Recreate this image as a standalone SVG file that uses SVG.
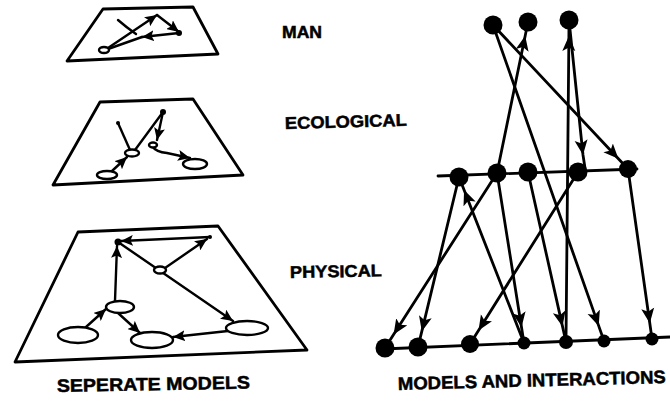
<svg xmlns="http://www.w3.org/2000/svg" width="670" height="403" viewBox="0 0 670 403">
<defs>
<marker id="ah" markerUnits="userSpaceOnUse" markerWidth="17" markerHeight="14" refX="15" refY="7" orient="auto" viewBox="0 0 17 14">
<path d="M0,0.5 L15,7 L0,13.5 L3.5,7 Z" fill="#000"/>
</marker>
<marker id="as" markerUnits="userSpaceOnUse" markerWidth="13" markerHeight="11" refX="12" refY="5.5" orient="auto" viewBox="0 0 13 11">
<path d="M0,0 L12,5.5 L0,11 L2.5,5.5 Z" fill="#000"/>
</marker>
</defs>
<style>
.pl{fill:none;stroke:#000;stroke-width:2.8;stroke-linejoin:round}
.ln{fill:none;stroke:#000;stroke-width:2.4;stroke-linecap:round}
.lr{fill:none;stroke:#000;stroke-width:2.8;stroke-linecap:round}
.ov{fill:#fff;stroke:#000;stroke-width:2.4}
.dot{fill:#000}
.lab{font-family:"Liberation Sans",Arial,sans-serif;font-weight:bold;fill:#000;stroke:#000;stroke-width:0.5}
.a{marker-end:url(#as)}
.m{marker-mid:url(#ah)}
</style>
<rect width="670" height="403" fill="#fff"/>

<!-- MAN plane -->
<g id="man-model">
<polygon class="pl" points="103,9 193,7 218,54 67,61"/>
<path class="ln a" d="M108,48 L157,15"/>
<path class="ln a" d="M157,15 L179,32"/>
<path class="ln a" d="M179,33 L142,37"/>
<path class="ln" d="M108,49 L142,37"/>
<path class="ln" d="M118,20 Q126,27 136,34"/>
<circle class="dot" cx="179" cy="33" r="3"/>
<ellipse class="ov" cx="104" cy="50" rx="5" ry="3"/>
</g>

<!-- ECOLOGICAL plane -->
<g id="ecological-model">
<polygon class="pl" points="100,102 193,99 243,175 53,185"/>
<path class="ln a" d="M112,171 L127,157"/>
<path class="ln" d="M118,123 L130,150"/>
<path class="ln" d="M135,150 L163,112"/>
<path class="ln a" d="M163,112 L157,140"/>
<path class="ln a" d="M152,146 Q156,152 167,153 L190,158"/>
<circle class="dot" cx="163" cy="112" r="3"/>
<circle class="dot" cx="118" cy="123" r="2"/>
<ellipse class="ov" cx="153" cy="145" rx="4" ry="2.5"/>
<ellipse class="ov" cx="107" cy="175" rx="10" ry="4"/>
<ellipse class="ov" cx="132" cy="153" rx="7" ry="3.5"/>
<ellipse class="ov" cx="195" cy="164" rx="12" ry="5"/>
</g>

<!-- PHYSICAL plane -->
<g id="physical-model">
<polygon class="pl" points="78,232 218,226 307,350 15,362"/>
<path class="ln a" d="M210,237 L121,241"/>
<path class="ln a" d="M165,268 L207,239"/>
<path class="ln a" d="M118,242 L233,321"/>
<path class="ln a" d="M115,301 L117,246"/>
<path class="ln a" d="M86,327 L106,309"/>
<path class="ln a" d="M118,313 L140,333"/>
<path class="ln a" d="M228,331 L173,337"/>
<circle class="dot" cx="118" cy="242" r="3.5"/>
<circle class="dot" cx="210" cy="237" r="2"/>
<ellipse class="ov" cx="160" cy="270" rx="6" ry="3.5"/>
<ellipse class="ov" cx="120" cy="307" rx="14" ry="6"/>
<ellipse class="ov" cx="78" cy="335" rx="20" ry="8"/>
<ellipse class="ov" cx="152" cy="340" rx="21" ry="8"/>
<ellipse class="ov" cx="247" cy="328" rx="21" ry="7"/>
</g>

<!-- layer lines of interaction diagram -->
<g id="layer-lines">
<path class="lr" d="M438,176 L637,169"/>
<path class="lr" d="M383,349 L670,337"/>
</g>

<!-- connectors -->
<g id="connectors">
<path class="lr m" d="M493,25 L618.4,158.8 L628,169"/>
<path class="lr m" d="M493,25 L598.7,325.9 L604,341"/>
<path class="lr m" d="M497,173 L525.2,35.7 L528,22"/>
<path class="lr m" d="M566,342 L568.9,36 L569,20"/>
<path class="lr m" d="M569,20 L583,155 L585,168"/>
<path class="lr m" d="M459,177 L421.8,331.4 L418,347"/>
<path class="lr m" d="M524,343 L464.1,190 L459,177"/>
<path class="lr m" d="M497,173 L393.6,334.5 L385,348"/>
<path class="lr m" d="M497,173 L521.5,327.2 L524,343"/>
<path class="lr m" d="M528,172 L562.5,326.4 L566,342"/>
<path class="lr m" d="M578,172 L478.5,330.4 L470,344"/>
<path class="lr m" d="M628,169 L649.8,323.2 L652,339"/>
</g>

<!-- nodes -->
<g id="node-t1"><circle class="dot" cx="493" cy="25" r="9.5"/></g>
<g id="node-t2"><circle class="dot" cx="528" cy="22" r="9.5"/></g>
<g id="node-t3"><circle class="dot" cx="569" cy="20" r="9.5"/></g>
<g id="node-m1"><circle class="dot" cx="459" cy="177" r="9.5"/></g>
<g id="node-m2"><circle class="dot" cx="497" cy="173" r="9.5"/></g>
<g id="node-m3"><circle class="dot" cx="528" cy="172" r="9.5"/></g>
<g id="node-m4"><circle class="dot" cx="578" cy="172" r="9.5"/></g>
<g id="node-m5"><circle class="dot" cx="628" cy="169" r="9"/></g>
<g id="node-b1"><circle class="dot" cx="385" cy="348" r="9.5"/></g>
<g id="node-b2"><circle class="dot" cx="418" cy="347" r="9.5"/></g>
<g id="node-b3"><circle class="dot" cx="470" cy="344" r="9"/></g>
<g id="node-b4"><circle class="dot" cx="524" cy="343" r="6.5"/></g>
<g id="node-b5"><circle class="dot" cx="566" cy="342" r="7"/></g>
<g id="node-b6"><circle class="dot" cx="604" cy="341" r="6.5"/></g>
<g id="node-b7"><circle class="dot" cx="652" cy="339" r="6.5"/></g>

<!-- labels -->
<g id="labels">
<text class="lab" x="282" y="38" font-size="16" textLength="40" lengthAdjust="spacingAndGlyphs">MAN</text>
<text class="lab" x="285" y="129" font-size="17" textLength="122" lengthAdjust="spacingAndGlyphs" transform="rotate(-1.5 285 129)">ECOLOGICAL</text>
<text class="lab" x="290" y="278" font-size="17" textLength="92" lengthAdjust="spacingAndGlyphs" transform="rotate(-1 290 278)">PHYSICAL</text>
<text class="lab" x="57" y="392" font-size="18" textLength="193" lengthAdjust="spacingAndGlyphs" transform="rotate(-1 57 392)">SEPERATE MODELS</text>
<text class="lab" x="398" y="390" font-size="18" textLength="268" lengthAdjust="spacingAndGlyphs" transform="rotate(-1.5 398 390)">MODELS AND INTERACTIONS</text>
</g>
</svg>
